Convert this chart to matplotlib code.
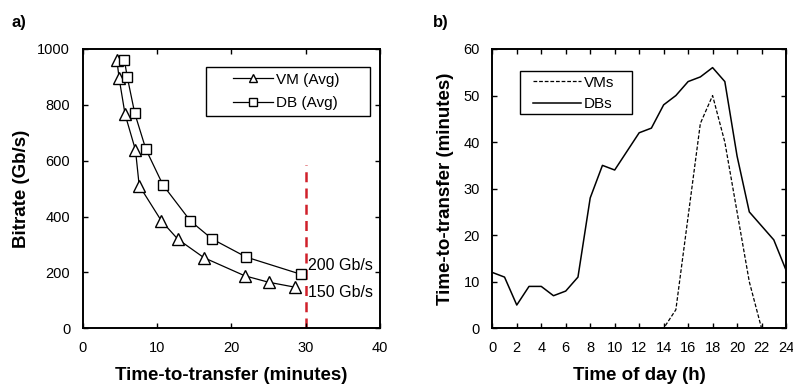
import matplotlib
matplotlib.use("Agg")
import matplotlib.pyplot as plt
from matplotlib.patches import Rectangle

plt.rcParams['font.family'] = ['Liberation Sans', 'DejaVu Sans']

# panel a) bitrate vs time-to-transfer
vm_time = [4.6, 4.9, 5.7, 7.1, 7.6, 10.6, 12.8, 16.3, 21.8, 25.0, 28.6]
vm_rate = [960, 895, 766, 638, 511, 384, 319, 253, 188, 165, 147]
db_time = [5.6, 6.0, 7.0, 8.5, 10.8, 14.5, 17.4, 22.0, 29.4]
db_rate = [961, 899, 770, 641, 513, 384, 320, 255, 193]
limit_x = 30
limit_top = 585

# panel b) time-to-transfer over the day
hours = list(range(25))
vms = [0, 0, 0, 0, 0, 0, 0, 0, 0, 0, 0, 0, 0, 0, 0, 4, 24, 44, 50, 40, 25, 10, 0, 0, 0]
dbs = [12, 11, 5, 9, 9, 7, 8, 11, 28, 35, 34, 38, 42, 43, 48, 50, 53, 54, 56, 53, 37, 25, 22, 19, 12.5]

fig = plt.figure(figsize=(7.93, 3.9), dpi=100)
ax1 = fig.add_axes([0.1043, 0.1582, 0.3749, 0.7162])
ax2 = fig.add_axes([0.6208, 0.1582, 0.3704, 0.7162])

for ax in (ax1, ax2):
    ax.tick_params(direction='in', top=True, right=True, length=3.5, width=1,
                   labelsize=10.5)
    ax.tick_params(axis='x', pad=9)
    ax.tick_params(axis='y', pad=9)
    for s in ax.spines.values():
        s.set_linewidth(1.4)

ax1.plot(vm_time, vm_rate, color='black', lw=0.9, marker='^', ms=8,
         mfc='white', mec='black', mew=1, label='VM (Avg)')
ax1.plot(db_time, db_rate, color='black', lw=0.9, marker='s', ms=6.5,
         mfc='white', mec='black', mew=1, label='DB (Avg)')
ax1.plot([limit_x, limit_x], [0, limit_top], color='#d0202a', lw=1.8,
         ls=(0, (4, 2.5)), zorder=1)
ax1.text(30.3, 224, '200 Gb/s', fontsize=11.5, va='center', ha='left')
ax1.text(30.3, 127, '150 Gb/s', fontsize=11.5, va='center', ha='left')
ax1.set_xlim(0, 40)
ax1.set_ylim(0, 1000)
ax1.set_xticks([0, 10, 20, 30, 40])
ax1.set_yticks([0, 200, 400, 600, 800, 1000])
ax1.set_xlabel('Time-to-transfer (minutes)', fontsize=13.5, fontweight='bold', labelpad=9)
ax1.set_ylabel('Bitrate (Gb/s)', fontsize=13.5, fontweight='bold', labelpad=5)
ax1.add_patch(Rectangle((0.414, 0.760), 0.552, 0.177, transform=ax1.transAxes,
                        fill=False, edgecolor='black', lw=1.0, zorder=4))
ax1.legend(loc='upper left', bbox_to_anchor=(0.505, 0.915), fontsize=11,
           frameon=False, handlelength=2.6, handletextpad=0.2, borderpad=0,
           labelspacing=0.6, borderaxespad=0, markerscale=0.8)

ax2.plot(hours, vms, color='black', lw=0.9, ls=(0, (3, 1.5)), label='VMs')
ax2.plot(hours, dbs, color='black', lw=1.1, label='DBs')
ax2.set_xlim(0, 24)
ax2.set_ylim(0, 60)
ax2.set_xticks(range(0, 25, 2))
ax2.set_yticks(range(0, 61, 10))
ax2.set_xlabel('Time of day (h)', fontsize=13.5, fontweight='bold', labelpad=9)
ax2.set_ylabel('Time-to-transfer (minutes)', fontsize=13.5, fontweight='bold', labelpad=7)
ax2.add_patch(Rectangle((0.094, 0.767), 0.381, 0.155, transform=ax2.transAxes,
                        fill=False, edgecolor='black', lw=1.0, zorder=4))
ax2.legend(loc='upper left', bbox_to_anchor=(0.14, 0.905), fontsize=11,
           frameon=False, handlelength=3.1, handletextpad=0.2, borderpad=0,
           labelspacing=0.5, borderaxespad=0)

fig.text(0.015, 0.93, 'a)', fontsize=12, fontweight='bold')
fig.text(0.546, 0.93, 'b)', fontsize=12, fontweight='bold')

fig.savefig('out.png', dpi=100)
